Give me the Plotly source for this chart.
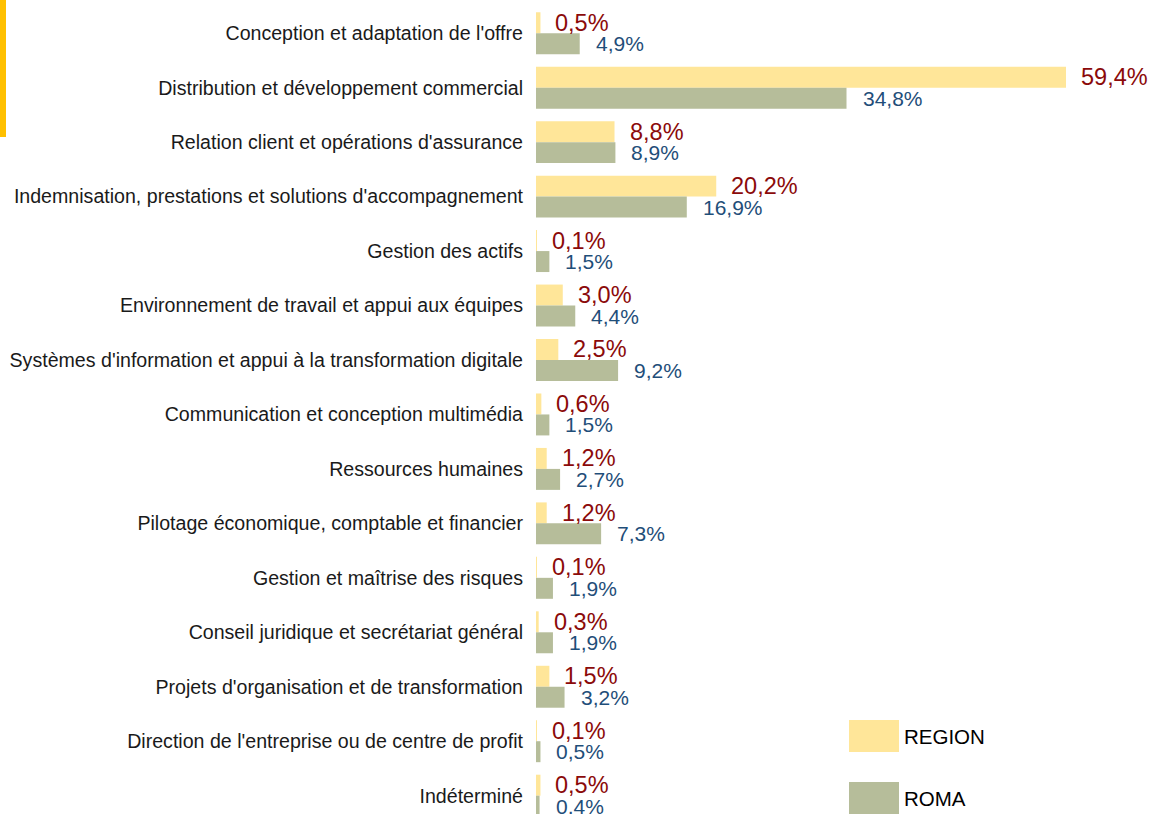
import plotly.graph_objects as go

categories = [
    "Conception et adaptation de l'offre",
    "Distribution et développement commercial",
    "Relation client et opérations d'assurance",
    "Indemnisation, prestations et solutions d'accompagnement",
    "Gestion des actifs",
    "Environnement de travail et appui aux équipes",
    "Systèmes d'information et appui à la transformation digitale",
    "Communication et conception multimédia",
    "Ressources humaines",
    "Pilotage économique, comptable et financier",
    "Gestion et maîtrise des risques",
    "Conseil juridique et secrétariat général",
    "Projets d'organisation et de transformation",
    "Direction de l'entreprise ou de centre de profit",
    "Indéterminé",
]
region = [0.5, 59.4, 8.8, 20.2, 0.1, 3.0, 2.5, 0.6, 1.2, 1.2, 0.1, 0.3, 1.5, 0.1, 0.5]
roma = [4.9, 34.8, 8.9, 16.9, 1.5, 4.4, 9.2, 1.5, 2.7, 7.3, 1.9, 1.9, 3.2, 0.5, 0.4]
series_names = ["REGION", "ROMA"]

C_REGION = "#FFE699"
C_ROMA = "#B6BD9A"
T_REGION = "#8B0A0A"
T_ROMA = "#1F4E79"
FONT = "Liberation Sans, Arial, sans-serif"

W, H = 1152, 814
L, R, T, B = 536, 0, 6, 0
pw = W - L - R
ph = H - T - B
px_per_unit = 530 / 59.4
band = 54.46

def fmt(v):
    return f"{v:.1f}".replace(".", ",") + "%"

fig = go.Figure()
fig.add_trace(go.Bar(y=categories, x=region, orientation="h", name=series_names[0],
                     marker=dict(color=C_REGION, line=dict(width=0)), showlegend=False))
fig.add_trace(go.Bar(y=categories, x=roma, orientation="h", name=series_names[1],
                     marker=dict(color=C_ROMA, line=dict(width=0)), showlegend=False))

annotations = []
for c, v in zip(categories, region):
    annotations.append(dict(x=v, y=c, xref="x", yref="y", text=fmt(v), showarrow=False,
                            xanchor="left", yanchor="middle", xshift=13, yshift=10.5,
                            font=dict(family=FONT, size=23.5, color=T_REGION)))
for c, v in zip(categories, roma):
    annotations.append(dict(x=v, y=c, xref="x", yref="y", text=fmt(v), showarrow=False,
                            xanchor="left", yanchor="middle", xshift=14, yshift=-10.5,
                            font=dict(family=FONT, size=21, color=T_ROMA)))

def px_x(p):
    return (p - L) / pw

def px_y(p):
    return 1 - (p - T) / ph

shapes = [
    dict(type="rect", xref="paper", yref="paper", x0=px_x(0), x1=px_x(6), y0=px_y(137), y1=px_y(-2),
         fillcolor="#FFC000", line=dict(width=0), layer="above"),
]
legend_items = [(series_names[0], C_REGION, 720, 752), (series_names[1], C_ROMA, 782, 814)]
for name, col, y0, y1 in legend_items:
    shapes.append(dict(type="rect", xref="paper", yref="paper", x0=px_x(849), x1=px_x(899),
                       y0=px_y(y1), y1=px_y(y0), fillcolor=col, line=dict(width=0)))
    annotations.append(dict(x=px_x(902), y=px_y((y0 + y1) / 2), xref="paper", yref="paper",
                            text=name, showarrow=False, xanchor="left", yanchor="middle",
                            font=dict(family=FONT, size=20.5, color="#000000")))

top_val = -0.5
bottom_val = top_val + ph / band

fig.update_layout(
    width=W, height=H,
    margin=dict(l=L, r=R, t=T, b=B),
    paper_bgcolor="white", plot_bgcolor="white",
    barmode="group", bargap=0.23, bargroupgap=0,
    font=dict(family=FONT, size=19.6, color="#000000"),
    xaxis=dict(range=[0, pw / px_per_unit], visible=False, showgrid=False, zeroline=False),
    yaxis=dict(type="category", range=[bottom_val, top_val], showgrid=False, zeroline=False,
               showline=False, ticks="", ticklabelstandoff=12,
               tickfont=dict(family=FONT, size=19.6, color="#1a1a1a")),
    shapes=shapes,
    annotations=annotations,
)

fig.write_html("out.html", config={"displayModeBar": False},
               post_script="document.body.style.margin='0';document.body.style.overflow='hidden';")
